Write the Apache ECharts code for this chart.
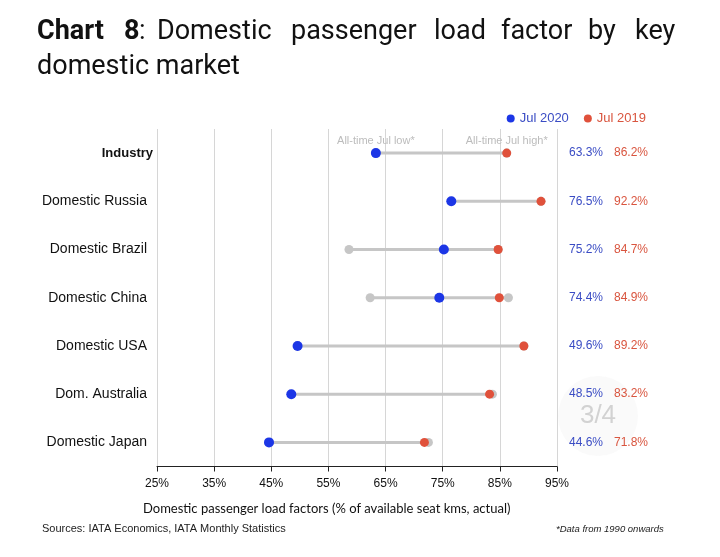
<!DOCTYPE html>
<html>
<head>
<meta charset="utf-8">
<script src="https://cdn.jsdelivr.net/npm/echarts@6/dist/echarts.min.js"></script>
<style>html,body{margin:0;padding:0;background:#fff;}#c{width:720px;height:557px;}</style>
</head>
<body>
<div id="c"></div>
<script>
const categories = ['Industry','Domestic Russia','Domestic Brazil','Domestic China','Domestic USA','Dom. Australia','Domestic Japan'];
const jul2020 = [63.3, 76.5, 75.2, 74.4, 49.6, 48.5, 44.6];
const jul2019 = [86.2, 92.2, 84.7, 84.9, 89.2, 83.2, 71.8];
const allTimeLow = [63.3, 76.5, 58.6, 62.3, 49.6, 48.5, 44.6];
const allTimeHigh = [86.2, 92.2, 84.7, 86.5, 89.2, 83.7, 72.5];
const xTicks = [25, 35, 45, 55, 65, 75, 85, 95];

const BLUE = '#1c36e6', RED = '#e0513b', GREY = '#c6c6c6';
const BLUE_T = '#3a4cc4', RED_T = '#d9553f';

const chart = echarts.init(document.getElementById('c'));

const titleWords = [
  {t:'Chart', x:37, b:true}, {t:'8', x:124, b:true}, {t:':', x:139, b:false},
  {t:'Domestic', x:157}, {t:'passenger', x:291}, {t:'load', x:434},
  {t:'factor', x:501}, {t:'by', x:588}, {t:'key', x:635}
];
const graphic = titleWords.map(w => ({
  type:'text', left:w.x, top:19,
  style:{text:w.t, font:(w.b?'bold ':'')+'27px Roboto', fill:'#111'}
}));
graphic.push({type:'text', left:37, top:54, style:{text:'domestic market', font:'27px Roboto', fill:'#111'}});
graphic.push({type:'text', left:143, top:502, style:{text:'Domestic passenger load factors (% of available seat kms, actual)', font:'13px Lato', fill:'#111'}});
graphic.push({type:'text', left:42, top:523, style:{text:'Sources: IATA Economics, IATA Monthly Statistics', font:'11px "Liberation Sans"', fill:'#222'}});
graphic.push({type:'text', left:556, top:524, style:{text:'*Data from 1990 onwards', font:'italic 9.5px "Liberation Sans"', fill:'#222'}});
graphic.push({type:'circle', shape:{cx:598, cy:416, r:40}, style:{fill:'rgba(238,238,238,0.3)'}, z:0});
graphic.push({type:'text', x:598, y:416, style:{text:'3/4', font:'26px "Liberation Sans"', fill:'#d2d2d2', align:'center', verticalAlign:'middle'}, z:100});

const rightLabels = categories.map((c,i) => '{b|' + jul2020[i].toFixed(1) + '%}{r|' + jul2019[i].toFixed(1) + '%}');

chart.setOption({
  animation:false,
  backgroundColor:'#fff',
  graphic: graphic,
  legend:{
    right:69, top:107, itemWidth:8, itemHeight:8, itemGap:15,
    textStyle:{fontSize:13, fontFamily:'Liberation Sans'},
    data:[
      {name:'Jul 2020', icon:'circle', textStyle:{color:BLUE_T}},
      {name:'Jul 2019', icon:'circle', textStyle:{color:RED_T}}
    ]
  },
  grid:{left:157, right:163, top:129, bottom:90.5},
  xAxis:{
    type:'value', min:25, max:95, interval:10,
    axisLine:{show:true, lineStyle:{color:'#222', width:1}},
    axisTick:{show:true, length:5, lineStyle:{color:'#222'}},
    axisLabel:{formatter:'{value}%', color:'#111', fontSize:12, margin:11, fontFamily:'Liberation Sans'},
    splitLine:{show:true, lineStyle:{color:'#d6d6d6', width:1}}
  },
  yAxis:[{
    type:'category', data:categories, inverse:true,
    axisLine:{show:false}, axisTick:{show:false},
    axisLabel:{
      color:'#111', fontSize:14, margin:4, fontFamily:'Liberation Sans',
      formatter:(v) => v === 'Industry' ? '{bold|' + v + '}' : '{n|' + v + '}',
      rich:{
        bold:{fontWeight:'bold', fontSize:13, color:'#111', fontFamily:'Liberation Sans'},
        n:{fontSize:14, color:'#111', fontFamily:'Liberation Sans', padding:[0,6,0,0]}
      }
    }
  },{
    type:'category', data:rightLabels, inverse:true, position:'right',
    axisLine:{show:false}, axisTick:{show:false},
    axisLabel:{
      margin:12, align:'left',
      rich:{
        b:{color:BLUE_T, fontSize:12, width:45, fontFamily:'Liberation Sans'},
        r:{color:RED_T, fontSize:12, fontFamily:'Liberation Sans'}
      }
    }
  }],
  series:[
    {
      type:'custom', name:'range', silent:true,
      data: categories.map((c,i) => [allTimeLow[i], allTimeHigh[i], i]),
      encode:{x:[0,1], y:2},
      renderItem:(params, api) => {
        const s = api.coord([api.value(0), api.value(2)]);
        const e = api.coord([api.value(1), api.value(2)]);
        return {type:'line', shape:{x1:s[0], y1:s[1], x2:e[0], y2:e[1]}, style:{stroke:GREY, lineWidth:3}};
      },
      z:2
    },
    {
      type:'scatter', name:'All-time low', symbolSize:9, itemStyle:{color:GREY, opacity:1},
      data: allTimeLow.map((v,i) => i === 0 ? {value:[v,i], label:{show:true, position:'top', distance:2, formatter:'All-time Jul low*', color:'#bcbcbc', fontSize:11, fontFamily:'Liberation Sans'}} : [v,i]),
      z:3
    },
    {
      type:'scatter', name:'All-time high', symbolSize:9, itemStyle:{color:GREY, opacity:1},
      data: allTimeHigh.map((v,i) => i === 0 ? {value:[v,i], label:{show:true, position:'top', distance:2, formatter:'All-time Jul high*', color:'#bcbcbc', fontSize:11, fontFamily:'Liberation Sans'}} : [v,i]),
      z:3
    },
    {
      type:'scatter', name:'Jul 2020', symbolSize:10, itemStyle:{color:BLUE, opacity:1},
      data: jul2020.map((v,i) => [v,i]), z:5
    },
    {
      type:'scatter', name:'Jul 2019', symbolSize:9, itemStyle:{color:RED, opacity:1},
      data: jul2019.map((v,i) => [v,i]), z:5
    }
  ]
});
</script>
</body>
</html>
